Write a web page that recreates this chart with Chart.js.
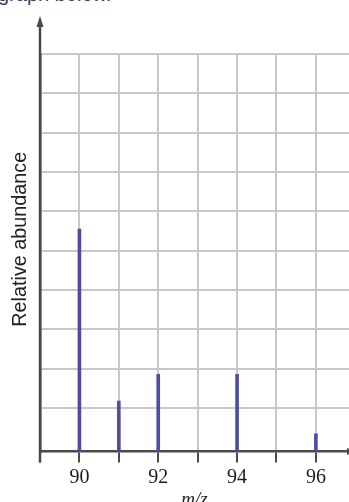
<!DOCTYPE html>
<html><head><meta charset="utf-8">
<script src="https://cdn.jsdelivr.net/npm/chart.js@4.4.1/dist/chart.umd.min.js"></script>
<style>
html,body{margin:0;padding:0;background:#fff;overflow:hidden;}
#wrap{position:relative;width:349px;height:502px;overflow:hidden;}
#lead{position:absolute;left:-2px;top:-16px;font:20px/20px "Liberation Sans",Arial,sans-serif;color:#2d3f73;white-space:nowrap;}
canvas{position:absolute;left:0;top:0;}
</style></head><body>
<div id="wrap"><div id="lead">graph below.</div><canvas id="c" width="349" height="502"></canvas></div>
<script>
// m/z values of the peaks
const massToCharge = [90, 91, 92, 94, 96];
// relative abundance (grid units)
const relativeAbundance = [5.55, 1.18, 1.86, 1.86, 0.35];
// labelled x ticks
const xTickLabels = [90, 92, 94, 96];
// every x tick / vertical gridline
const xTicks = [89, 90, 91, 92, 93, 94, 95, 96];
// horizontal gridlines
const yGridValues = [1, 2, 3, 4, 5, 6, 7, 8, 9, 10];
const xAxisTitle = 'm/z';
const yAxisTitle = 'Relative abundance';

const AXIS = '#4a4a4a';
const GRID = '#c8c8c8';

const decor = {
  id: 'decor',
  afterDraw(chart) {
    const { ctx, chartArea: a } = chart;
    ctx.save();
    ctx.strokeStyle = AXIS; ctx.fillStyle = AXIS; ctx.lineWidth = 2.5;
    ctx.beginPath(); ctx.moveTo(a.left, a.bottom + 11); ctx.lineTo(a.left, a.top - 28); ctx.stroke();
    ctx.beginPath(); ctx.moveTo(a.left - 3.5, a.top - 27); ctx.lineTo(a.left + 3.5, a.top - 27); ctx.lineTo(a.left, a.top - 38); ctx.closePath(); ctx.fill();
    ctx.beginPath(); ctx.moveTo(a.right - 2, a.bottom - 3.5); ctx.lineTo(a.right - 2, a.bottom + 3.5); ctx.lineTo(a.right + 9, a.bottom); ctx.closePath(); ctx.fill();
    ctx.translate(21, (a.top - 38 + a.bottom + 11) / 2);
    ctx.rotate(-Math.PI / 2);
    ctx.font = '19.8px "Liberation Sans", Arial, sans-serif';
    ctx.fillStyle = '#222';
    ctx.textAlign = 'center'; ctx.textBaseline = 'middle';
    ctx.fillText(yAxisTitle, 0, 0);
    ctx.restore();
  }
};

new Chart(document.getElementById('c'), {
  type: 'bar',
  data: {
    datasets: [{
      data: massToCharge.map((m, i) => ({ x: m, y: relativeAbundance[i] })),
      base: -0.1,
      backgroundColor: '#4d4f9e',
      borderWidth: 0,
      barThickness: 3
    }]
  },
  options: {
    responsive: false,
    animation: false,
    devicePixelRatio: 1,
    layout: { padding: { top: 54, left: 0, right: 0, bottom: 0 } },
    plugins: { legend: { display: false }, tooltip: { enabled: false }, title: { display: false } },
    scales: {
      x: {
        type: 'linear', min: 89, max: 96.84, offset: false,
        afterBuildTicks: s => { s.ticks = xTicks.map(v => ({ value: v })); },
        afterFit: s => { s.height = 50.5; },
        ticks: {
          autoSkip: false, maxRotation: 0, padding: 3,
          callback: v => xTickLabels.includes(v) ? String(v) : '',
          font: { family: '"Liberation Serif", "Times New Roman", serif', size: 20 },
          color: '#1c1c1c'
        },
        grid: { offset: false, color: GRID, lineWidth: 2, drawTicks: true, tickLength: 11, tickColor: AXIS, tickWidth: 2 },
        border: { color: AXIS, width: 2.5 },
        title: {
          display: true, text: xAxisTitle, color: '#1c1c1c',
          font: { family: '"Liberation Serif", "Times New Roman", serif', size: 19, style: 'italic', lineHeight: 1 },
          padding: { top: 0, bottom: -7 }
        }
      },
      y: {
        type: 'linear', min: -0.1, max: 10,
        afterBuildTicks: s => { s.ticks = yGridValues.map(v => ({ value: v })); },
        afterFit: s => { s.width = 40; },
        ticks: { display: false },
        grid: { color: GRID, lineWidth: 2, drawTicks: false },
        border: { color: AXIS, width: 2.5 }
      }
    }
  },
  plugins: [decor]
});
</script>
</body></html>
